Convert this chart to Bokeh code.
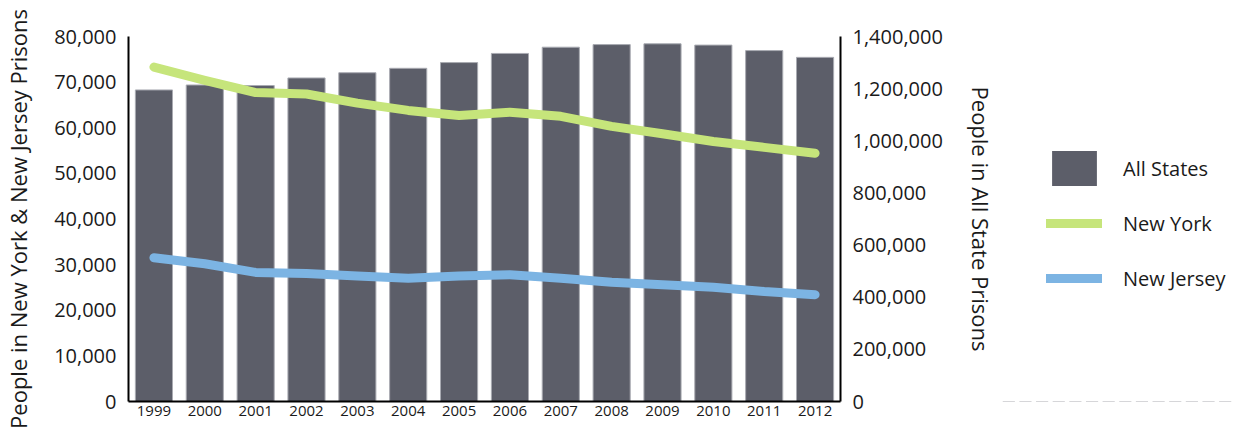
from bokeh.plotting import figure
from bokeh.layouts import row
from bokeh.models import (Range1d, FactorRange, LinearAxis, CategoricalAxis,
                          NumeralTickFormatter, FixedTicker, Legend, LegendItem,
                          ColumnDataSource)
from bokeh.embed import file_html
from bokeh.resources import INLINE

years = ["1999", "2000", "2001", "2002", "2003", "2004", "2005", "2006",
         "2007", "2008", "2009", "2010", "2011", "2012"]
all_states = [1195000, 1214000, 1212000, 1241000, 1261000, 1278000, 1300000,
              1335000, 1359000, 1369000, 1372000, 1367000, 1346000, 1320000]
new_york = [73300, 70400, 67700, 67400, 65400, 63800, 62700, 63400, 62500,
            60300, 58700, 57000, 55700, 54400]
new_jersey = [31500, 30200, 28300, 28050, 27500, 27000, 27500, 27800, 27000,
              26150, 25600, 25050, 24100, 23400]
series_names = ["All States", "New York", "New Jersey"]

left_ticks = [0, 10000, 20000, 30000, 40000, 50000, 60000, 70000, 80000]
right_ticks = [0, 200000, 400000, 600000, 800000, 1000000, 1200000, 1400000]

BAR = "#5c5e69"
BAR_EDGE = "#a9abb2"
NY = "#c6e57b"
NJ = "#7cb4e3"
FONT = "Open Sans"
TXT = "#1a1a1a"

src = ColumnDataSource(dict(year=years, all=all_states, ny=new_york, nj=new_jersey))


def draw_series(fig, bar_range=None, bar_bottom=0, edge=BAR_EDGE):
    kw = {"y_range_name": bar_range} if bar_range else {}
    b = fig.vbar(x="year", top="all", bottom=bar_bottom, width=0.73, source=src,
                 fill_color=BAR, line_color=edge, line_width=1, **kw)
    n = fig.line(x="year", y="ny", source=src, line_color=NY, line_width=9,
                 line_cap="round", line_join="round")
    j = fig.line(x="year", y="nj", source=src, line_color=NJ, line_width=9,
                 line_cap="round", line_join="round")
    return b, n, j


p = figure(width=1000, height=428, x_range=FactorRange(*years, range_padding=0),
           y_range=Range1d(0, 80000), output_backend="svg", toolbar_location=None,
           min_border_left=122, min_border_right=160, min_border_top=36,
           min_border_bottom=27, y_axis_location=None, x_axis_location=None)
p.extra_y_ranges = {"right": Range1d(0, 1400000)}
p.outline_line_color = None
p.xgrid.visible = False
p.ygrid.visible = False
p.background_fill_color = "white"
draw_series(p, "right")


def style(ax):
    ax.axis_line_color = "black"
    ax.axis_line_width = 2
    ax.major_tick_line_color = None
    ax.minor_tick_line_color = None
    ax.major_tick_out = 0
    ax.major_tick_in = 0
    ax.minor_tick_out = 0
    ax.minor_tick_in = 0
    ax.major_label_text_font = FONT
    ax.major_label_text_color = TXT
    ax.axis_label_text_font = FONT
    ax.axis_label_text_font_style = "normal"
    ax.axis_label_text_color = TXT


left = LinearAxis(ticker=FixedTicker(ticks=left_ticks),
                  formatter=NumeralTickFormatter(format="0,0"),
                  axis_label="People in New York & New Jersey Prisons")
style(left)
left.major_label_text_font_size = "20px"
left.major_label_standoff = 12
left.axis_label_text_font_size = "22px"
left.axis_label_standoff = 18
p.add_layout(left, "left")

right = LinearAxis(y_range_name="right", ticker=FixedTicker(ticks=right_ticks),
                   formatter=NumeralTickFormatter(format="0,0"),
                   axis_label="People in All State Prisons")
style(right)
right.major_label_text_font_size = "20px"
right.major_label_standoff = 12
right.axis_label_text_font_size = "22px"
right.axis_label_standoff = 20
p.add_layout(right, "right")

bottom = CategoricalAxis()
style(bottom)
bottom.major_label_text_font_size = "15px"
bottom.major_label_standoff = 4
p.add_layout(bottom, "below")

# legend panel: same series, drawn against a range in which they fall out of view
# (bars given zero height and no outline there so nothing of them is painted)
q = figure(width=233, height=428, x_range=FactorRange(*years),
           y_range=Range1d(1450000, 1500000), output_backend="svg",
           toolbar_location=None, min_border=0,
           x_axis_location=None, y_axis_location=None)
q.outline_line_color = None
q.xgrid.visible = False
q.ygrid.visible = False
r_bar, r_ny, r_nj = draw_series(q, bar_bottom="all", edge=None)

legend = Legend(items=[LegendItem(label=series_names[0], renderers=[r_bar]),
                       LegendItem(label=series_names[1], renderers=[r_ny]),
                       LegendItem(label=series_names[2], renderers=[r_nj])],
                location=(46, 101), glyph_width=56, glyph_height=44,
                spacing=11, padding=0, margin=0, label_standoff=21,
                border_line_color=None, background_fill_alpha=0,
                label_text_font=FONT, label_text_font_size="20px",
                label_text_color=TXT)
q.add_layout(legend, "center")

layout = row(p, q)
open("out.html", "w").write(file_html(layout, INLINE))
